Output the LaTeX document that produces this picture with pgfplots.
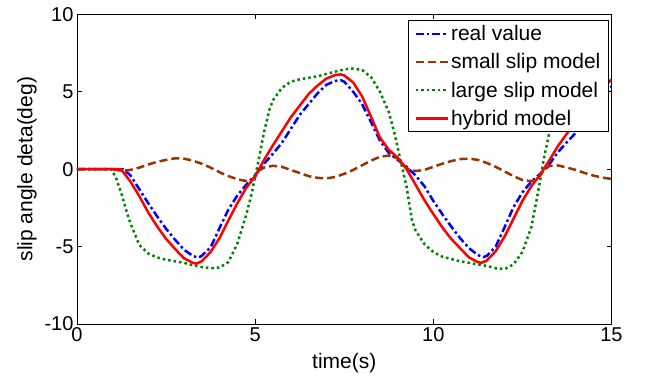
\documentclass[border=0pt]{standalone}
\usepackage{fontspec}
\setmainfont{Liberation Sans}
\usepackage{pgfplots}
\pgfplotsset{compat=1.18}
\definecolor{mblue}{rgb}{0,0,1}
\definecolor{mbrown}{rgb}{0.6,0.2,0}
\definecolor{mgreen}{rgb}{0,0.5,0}
\definecolor{mred}{rgb}{1,0,0}
\begin{document}
\begin{tikzpicture}
\useasboundingbox (-77pt,-52pt) rectangle (572pt,324pt);
\begin{axis}[
  width=534.5pt, height=309.7pt, scale only axis,
  xmin=0, xmax=15, ymin=-10, ymax=10,
  xtick={0,5,10,15}, xticklabels={0,5,10,15},
  ytick={-10,-5,0,5,10}, yticklabels={-10,-5,0,5,10},
  tick align=inside, major tick length=5pt,
  tick style={black, line width=0.6pt},
  axis line style={black, line width=0.8pt},
  tick label style={font=\fontsize{20}{24}\selectfont},
  label style={font=\fontsize{21}{25}\selectfont},
  xlabel={time(s)}, ylabel={slip angle deta(deg)},
  xlabel style={yshift=-5pt},
  ylabel style={yshift=1pt},
  legend cell align=left,
  legend style={at={(rel axis cs:1,1)}, xshift=-2.7pt, yshift=-5.7pt, anchor=north east,
    draw=black, line width=0.8pt, fill=white, font=\fontsize{21}{25}\selectfont,
    row sep=7.5pt, inner xsep=6pt, inner ysep=3pt},
  legend image code/.code={\draw[#1] (0pt,0pt) -- (32pt,0pt);},
  every axis plot/.append style={line width=2.5pt, line join=round},
]
\addplot[mblue, dash pattern=on 8pt off 3pt on 2.5pt off 3pt] table {
0 0
0.5 0
1.0 0
1.3 0
1.5 -0.4
1.75 -1.3
2.0 -2.2
2.25 -3.05
2.5 -3.85
2.75 -4.55
3.0 -5.2
3.25 -5.6
3.4 -5.72
3.5 -5.6
3.75 -5.05
4.0 -3.8
4.25 -2.6
4.5 -1.7
4.75 -1.0
5.0 -0.4
5.25 0.35
5.5 1.0
5.75 1.7
6.0 2.6
6.25 3.5
6.5 4.2
6.75 4.9
7.0 5.45
7.25 5.7
7.4 5.75
7.5 5.65
7.75 5.0
8.0 4.2
8.25 3.05
8.5 1.85
8.75 1.05
9.0 0.6
9.25 0.15
9.5 -0.4
9.75 -1.1
10.0 -2.05
10.25 -2.9
10.5 -3.7
10.75 -4.45
11.0 -5.1
11.25 -5.55
11.4 -5.68
11.5 -5.6
11.75 -5.0
12.0 -3.75
12.25 -2.45
12.5 -1.5
12.75 -0.8
13.0 -0.3
13.25 0.3
13.5 1.1
13.75 1.75
14.0 2.35
14.25 3.1
14.5 3.85
14.75 4.6
15.0 5.35
};
\addlegendentry{real value}
\addplot[mbrown, dash pattern=on 8pt off 4pt] table {
0 0
0.5 0
1.0 0
1.1 -0.05
1.25 -0.1
1.5 -0.05
1.75 0.1
2.0 0.3
2.25 0.47
2.5 0.6
2.75 0.7
3.0 0.68
3.25 0.55
3.5 0.35
3.75 0.1
4.0 -0.2
4.25 -0.45
4.5 -0.65
4.75 -0.77
4.9 -0.72
5.0 -0.5
5.1 -0.1
5.25 0.1
5.5 0.22
5.75 0.15
6.0 -0.05
6.25 -0.25
6.5 -0.45
6.75 -0.56
7.0 -0.6
7.25 -0.5
7.5 -0.3
7.75 -0.05
8.0 0.25
8.25 0.55
8.5 0.8
8.75 0.88
9.0 0.7
9.1 0.4
9.25 0.05
9.5 -0.12
9.75 -0.05
10.0 0.15
10.25 0.35
10.5 0.52
10.75 0.65
11.0 0.68
11.25 0.6
11.5 0.4
11.75 0.15
12.0 -0.15
12.25 -0.45
12.5 -0.7
12.75 -0.78
12.9 -0.65
13.0 -0.4
13.1 -0.05
13.25 0.2
13.5 0.24
13.75 0.1
14.0 -0.05
14.25 -0.25
14.5 -0.42
14.75 -0.55
15.0 -0.63
};
\addlegendentry{small slip model}
\addplot[mgreen, dash pattern=on 2.5pt off 3pt] table {
0 0
0.5 0
0.95 0
1.0 -0.15
1.1 -0.6
1.25 -1.6
1.4 -2.8
1.5 -3.5
1.75 -4.9
2.0 -5.45
2.25 -5.7
2.5 -5.85
2.75 -5.95
3.0 -6.05
3.25 -6.2
3.5 -6.32
3.75 -6.4
4.0 -6.35
4.25 -6.0
4.5 -4.8
4.75 -2.95
4.9 -1.6
5.0 -0.45
5.1 0.6
5.25 2.4
5.4 3.85
5.5 4.45
5.75 5.25
6.0 5.65
6.25 5.8
6.5 5.9
6.75 6.0
7.0 6.15
7.25 6.3
7.5 6.45
7.75 6.5
8.0 6.4
8.25 5.95
8.5 5.0
8.75 3.7
8.9 2.4
9.0 1.4
9.1 0.35
9.25 -1.15
9.4 -3.3
9.5 -3.95
9.75 -4.85
10.0 -5.35
10.25 -5.65
10.5 -5.8
10.75 -5.95
11.0 -6.05
11.25 -6.15
11.5 -6.25
11.75 -6.4
12.0 -6.45
12.25 -6.15
12.5 -5.35
12.75 -3.75
12.9 -1.96
13.0 -0.7
13.1 0.65
13.25 2.3
13.4 3.5
13.5 4.2
13.75 5.15
14.0 5.6
14.25 5.8
14.5 5.9
14.75 6.0
15.0 6.1
};
\addlegendentry{large slip model}
\addplot[mred] table {
0 0
0.5 0
1.0 0
1.2 0
1.25 -0.05
1.5 -0.8
1.75 -1.75
2.0 -2.8
2.25 -3.7
2.5 -4.5
2.75 -5.15
3.0 -5.75
3.25 -6.05
3.35 -6.1
3.5 -5.95
3.75 -5.35
4.0 -4.45
4.25 -3.3
4.5 -2.2
4.75 -1.2
5.0 -0.45
5.25 0.6
5.5 1.55
5.75 2.45
6.0 3.35
6.25 4.1
6.5 4.85
6.75 5.4
7.0 5.85
7.25 6.08
7.4 6.12
7.5 6.05
7.75 5.6
8.0 4.7
8.25 3.4
8.5 2.05
8.75 1.25
9.0 0.75
9.25 0.0
9.5 -1.0
9.75 -2.0
10.0 -2.9
10.25 -3.75
10.5 -4.5
10.75 -5.1
11.0 -5.7
11.25 -6.0
11.35 -6.05
11.5 -5.9
11.75 -5.3
12.0 -4.35
12.25 -3.2
12.5 -2.05
12.75 -1.1
13.0 -0.35
13.25 0.55
13.5 1.5
13.75 2.3
14.0 3.1
14.25 3.8
14.5 4.5
14.75 5.15
15.0 5.8
};
\addlegendentry{hybrid model}
\end{axis}
\end{tikzpicture}
\end{document}
